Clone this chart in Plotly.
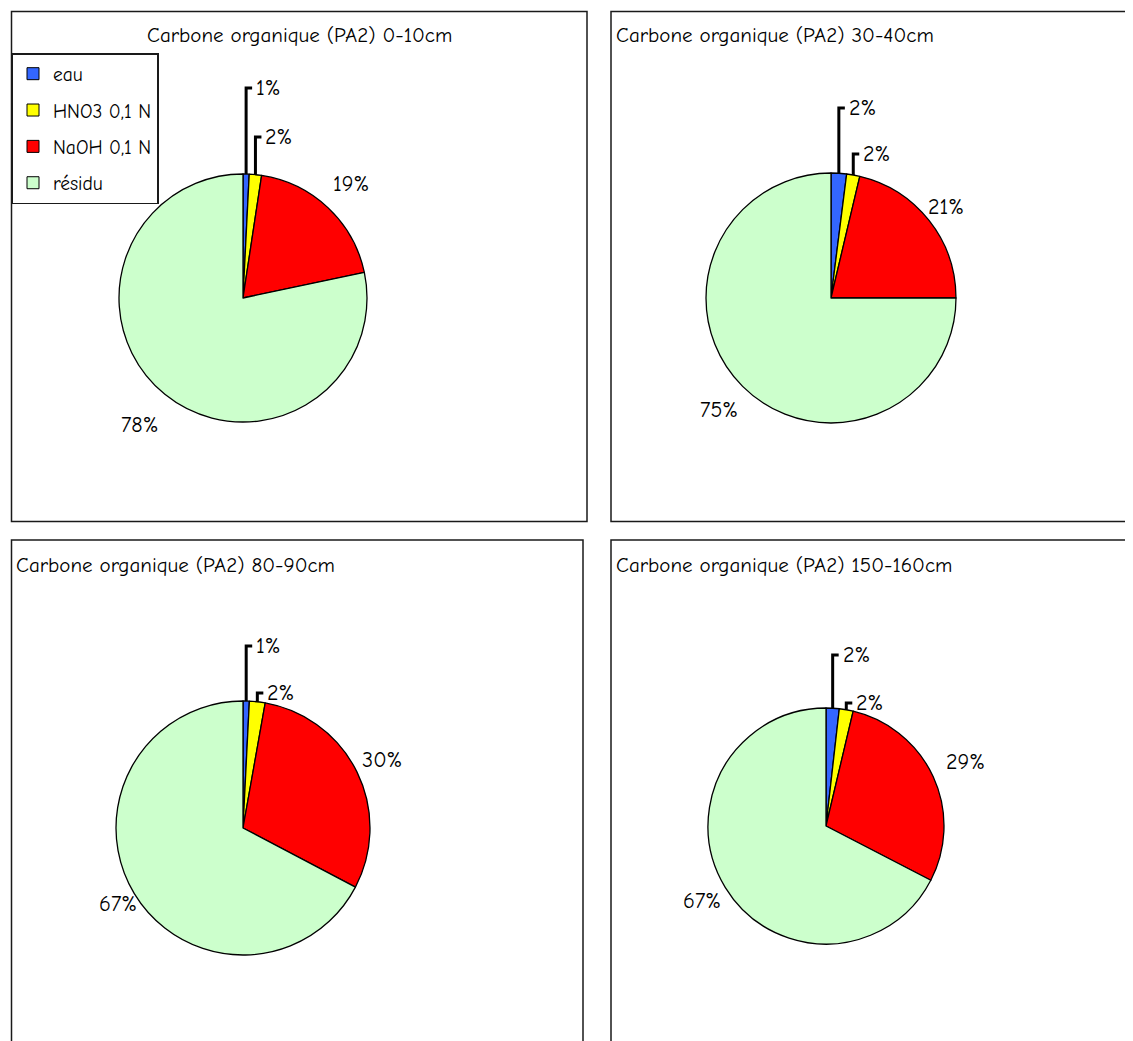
import math
import plotly.graph_objects as go

W, H = 1133, 1041
PAGE_OFFSET = 8  # the page body margin shifts the figure by 8px

# data
categories = ["eau", "HNO3 0,1 N", "NaOH 0,1 N", "résidu"]
depths = ["0-10cm", "30-40cm", "80-90cm", "150-160cm"]
eau = [0.8, 2.0, 0.8, 1.8]
hno3 = [1.6, 1.7, 2.0, 1.9]
naoh = [19.3, 21.3, 29.9, 28.9]
residu = [78.3, 75.0, 67.3, 67.4]

COLORS = ["#3366FF", "#FFFF00", "#FF0000", "#CCFFCC"]
FONT = "Comic Sans MS, Comic Neue, Lato, sans-serif"

# panel geometry in screen pixels (box, pie centre, radius, title placement)
PANELS = [
    dict(box=(11.5, 11.5, 587, 521.5), c=(243, 298), r=124, title=(299, 35, "center")),
    dict(box=(611, 11.5, 1160, 521.5), c=(831, 298), r=125, title=(614, 35, "left")),
    dict(box=(11.5, 540, 583, 1070), c=(243, 828), r=127, title=(14, 565, "left")),
    dict(box=(611, 540, 1160, 1070), c=(826, 826), r=118, title=(614, 565, "left")),
]
# height of the elbow label for the two small slices, px above the pie top
LEADER_UP = [[86, 37], [65, 19], [55, 8], [53, 5]]
# distance of the big labels from the centre, in radii
BIG_DIST = [[1.27, 1.32], [1.17, 1.27], [1.22, 1.15], [1.30, 1.23]]


def fx(x):
    return (x - PAGE_OFFSET) / W


def fy(y):
    return 1 - (y - PAGE_OFFSET) / H


fig = go.Figure()
shapes = []
annotations = []

for i, p in enumerate(PANELS):
    vals = [eau[i], hno3[i], naoh[i], residu[i]]
    total = sum(vals)
    cx, cy = p["c"]
    r = p["r"]

    x0, y0, x1, y1 = p["box"]
    shapes.append(dict(type="rect", xref="paper", yref="paper",
                       x0=fx(x0), x1=fx(x1), y0=fy(y1), y1=fy(y0),
                       line=dict(color="#1a1a1a", width=1.5), layer="below"))

    fig.add_trace(go.Pie(
        labels=categories, values=vals, sort=False, direction="clockwise",
        rotation=0, textinfo="none", showlegend=False, hoverinfo="label+percent",
        marker=dict(colors=COLORS, line=dict(color="black", width=1.3)),
        domain=dict(x=[fx(cx - r), fx(cx + r)], y=[fy(cy + r), fy(cy - r)]),
    ))

    tx, ty, ta = p["title"]
    annotations.append(dict(x=fx(tx), y=fy(ty), xref="paper", yref="paper",
                            text=f"Carbone organique (PA2) {depths[i]}",
                            showarrow=False, xanchor=ta, yanchor="middle",
                            font=dict(size=21, color="black", family=FONT)))

    # percentage labels
    cum = 0
    for k, v in enumerate(vals):
        mid = (cum + v / 2) / total * 2 * math.pi
        cum += v
        txt = f"{round(v / total * 100)}%"
        sx = cx + r * math.sin(mid)
        sy = cy - r * math.cos(mid)
        if k < 2:
            ly = cy - r - LEADER_UP[i][k]
            shapes.append(dict(type="path", xref="paper", yref="paper",
                               path=f"M {fx(sx)},{fy(sy)} L {fx(sx)},{fy(ly)} L {fx(sx + 6)},{fy(ly)}",
                               line=dict(color="black", width=3)))
            annotations.append(dict(x=fx(sx + 8), y=fy(ly), xref="paper", yref="paper",
                                    text=txt, showarrow=False, xanchor="left",
                                    yanchor="middle",
                                    font=dict(size=22, color="black", family=FONT)))
        else:
            d = BIG_DIST[i][k - 2] * r
            lx = cx + d * math.sin(mid)
            ly = cy - d * math.cos(mid)
            annotations.append(dict(x=fx(lx), y=fy(ly), xref="paper", yref="paper",
                                    text=txt, showarrow=False, xanchor="center",
                                    yanchor="middle",
                                    font=dict(size=22, color="black", family=FONT)))

# legend entries (dummy bars so each item can get its own gap)
for k, name in enumerate(categories):
    fig.add_trace(go.Bar(x=[None], y=[None], name=name, legendgroup=name,
                         marker=dict(color=COLORS[k], line=dict(color="black", width=1))))

fig.update_layout(
    width=W, height=H,
    margin=dict(l=0, r=0, t=0, b=0),
    paper_bgcolor="white", plot_bgcolor="white",
    font=dict(family=FONT, size=19, color="black"),
    xaxis=dict(visible=False), yaxis=dict(visible=False),
    shapes=shapes, annotations=annotations,
    legend=dict(x=fx(11.5), y=fy(53), xanchor="left", yanchor="top",
                bgcolor="white", bordercolor="#1a1a1a", borderwidth=1.5,
                tracegroupgap=8, font=dict(size=19.5, family=FONT)),
)

fig.write_html("out.html")
